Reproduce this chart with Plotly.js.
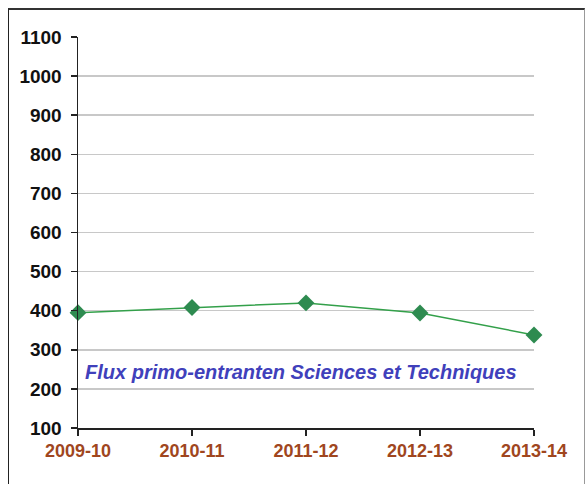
<!DOCTYPE html>
<html>
<head>
<meta charset="utf-8">
<script src="https://cdn.plot.ly/plotly-3.0.1.min.js"></script>
<style>
html,body{margin:0;padding:0;background:#fff;}
#frame{position:absolute;left:8px;top:8px;width:577px;height:490px;border-left:1.5px solid #222;border-top:2px solid #333;border-right:1px solid #999;box-sizing:border-box;}
#chart{position:absolute;left:0;top:0;width:586px;height:484px;}
</style>
</head>
<body>
<div id="frame"></div>
<div id="chart"></div>
<script>
var years = ["2009-10", "2010-11", "2011-12", "2012-13", "2013-14"];
var flux = [395, 408, 420, 394, 338];
var yTicks = [100, 200, 300, 400, 500, 600, 700, 800, 900, 1000, 1100];
var label = "Flux primo-entranten Sciences et Techniques";

var trace = {
  x: years,
  y: flux,
  type: "scatter",
  mode: "lines+markers",
  line: {color: "#33a04a", width: 1.5},
  marker: {symbol: "diamond", size: 13, color: "#2e8b50"},
  cliponaxis: false,
  showlegend: false,
  hoverinfo: "x+y"
};

var fam = "Arial, 'Liberation Sans', sans-serif";

var layout = {
  width: 586,
  height: 484,
  margin: {l: 78, r: 52, t: 37, b: 56},
  paper_bgcolor: "rgba(0,0,0,0)",
  plot_bgcolor: "rgba(0,0,0,0)",
  font: {family: fam},
  xaxis: {
    type: "category",
    range: [0, 4],
    showgrid: false,
    showline: true,
    linecolor: "#222",
    linewidth: 1.5,
    ticks: "outside",
    ticklen: 6,
    tickcolor: "#222",
    tickwidth: 1.5,
    tickfont: {size: 18, color: "#a0461e", family: fam, weight: "bold"},
    zeroline: false,
    fixedrange: true
  },
  yaxis: {
    range: [100, 1100],
    tickvals: yTicks,
    ticktext: yTicks.map(String),
    showgrid: true,
    gridcolor: "#c8c8c8",
    gridwidth: 1.5,
    showline: true,
    linecolor: "#222",
    linewidth: 1.5,
    ticks: "outside",
    ticklen: 6,
    tickcolor: "#222",
    tickwidth: 1.5,
    ticklabelstandoff: 5,
    tickfont: {size: 19, color: "#111", family: fam, weight: "bold"},
    zeroline: false,
    fixedrange: true
  },
  annotations: [{
    xref: "paper", yref: "y",
    x: 0.49, y: 244,
    text: label,
    showarrow: false,
    xanchor: "center", yanchor: "middle",
    font: {size: 20, color: "#4040bb", family: fam, style: "italic", weight: "bold"}
  }]
};

Plotly.newPlot("chart", [trace], layout, {displayModeBar: false, staticPlot: true});
</script>
</body>
</html>
